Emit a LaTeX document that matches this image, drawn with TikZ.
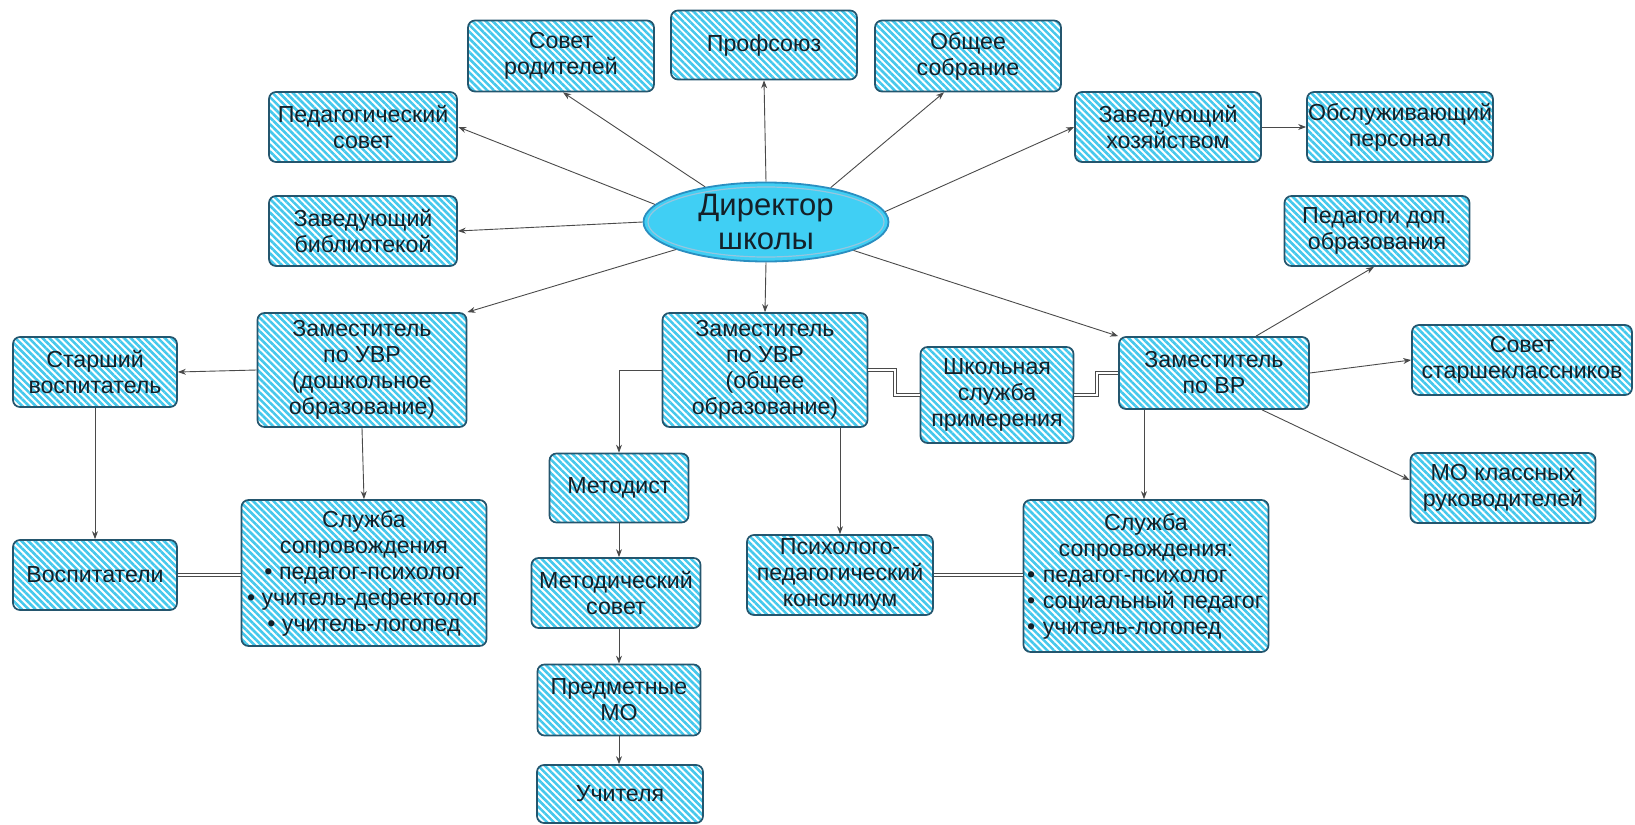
\documentclass[tikz,border=0pt]{standalone}
\usepackage{fontspec}
\setmainfont{Liberation Sans}
\usetikzlibrary{patterns.meta,arrows.meta,shapes.geometric,calc}
\definecolor{stripe}{HTML}{45C8EC}
\definecolor{bord}{HTML}{24566E}
\definecolor{txt}{HTML}{142028}
\definecolor{conn}{HTML}{4A4A4A}
\definecolor{ellfill}{HTML}{40CFF4}
\definecolor{ellbord}{HTML}{2A8EC0}
\begin{document}
\begin{tikzpicture}[x=0.5pt,y=-0.5pt,
  box/.style={draw=bord, line width=0.85pt, rounded corners=3.5pt,
    pattern={Lines[angle=-45,distance=2.4pt,line width=1.3pt]}, pattern color=stripe,
    align=center, inner sep=0pt, text=txt,
    font=\fontsize{11.6}{13}\selectfont},
  arr/.style={draw=conn, line width=0.45pt, -{Stealth[length=4pt,width=3pt]}},
  dbl/.style={draw=conn, line width=0.35pt, double=white, double distance=1.1pt}
]
\useasboundingbox (0,0) rectangle (1635,825);

% director
\node[ellipse, draw=ellbord, line width=0.9pt, fill=ellfill, minimum width=122.5pt, minimum height=39.5pt,
  inner sep=0pt, align=center, text=txt, font=\fontsize{15.5}{17}\selectfont] (dir) at (766,222) {Директор\\школы};
\draw[draw=ellbord!50!white, line width=0.6pt] (766,222) ellipse [x radius=118, y radius=35];

% top row
\node[box, minimum width=94pt, minimum height=35pt] (ped) at (363,127) {Педагогический\\совет};
\node[box, minimum width=93pt, minimum height=35.5pt] (rod) at (561,56) {Совет\\родителей};
\node[box, minimum width=93pt, minimum height=34.5pt] (prof) at (764,45) {Профсоюз};
\node[box, minimum width=93pt, minimum height=35.5pt] (sobr) at (968,56) {Общее\\собрание};
\node[box, minimum width=93pt, minimum height=35pt] (hoz) at (1168,127) {Заведующий\\хозяйством};
\node[box, minimum width=93pt, minimum height=35pt] (obsl) at (1400,127) {Обслуживающий\\персонал};
\node[box, minimum width=94pt, minimum height=35pt] (bib) at (363,231) {Заведующий\\библиотекой};
\node[box, minimum width=92.5pt, minimum height=35pt] (pdop) at (1377,231) {Педагоги доп.\\образования};

% middle row
\node[box, minimum width=104.5pt, minimum height=57pt] (zdosh) at (362,370) {Заместитель\\по УВР\\(дошкольное\\образование)};
\node[box, minimum width=102.5pt, minimum height=57pt] (zobsh) at (765,370) {Заместитель\\по УВР\\(общее\\образование)};
\node[box, minimum width=76.5pt, minimum height=48pt] (shk) at (997,395) {Школьная\\служба\\примерения};
\node[box, minimum width=95pt, minimum height=36pt] (zvr) at (1214,373) {Заместитель\\по ВР};
\node[box, minimum width=110pt, minimum height=35pt] (sstar) at (1522,360) {Совет\\старшеклассников};
\node[box, minimum width=82pt, minimum height=35pt] (svosp) at (95,372) {Старший\\воспитатель};
\node[box, minimum width=92.5pt, minimum height=35pt] (mokl) at (1503,488) {МО классных\\руководителей};

% lower
\node[box, minimum width=82pt, minimum height=35pt] (vosp) at (95,575) {Воспитатели};
\node[box, minimum width=122.5pt, minimum height=73pt] (sl1) at (364,573) {Служба\\сопровождения\\• педагог-психолог\\• учитель-дефектолог\\• учитель-логопед};
\node[box, minimum width=69.5pt, minimum height=34.5pt] (met) at (619,488) {Методист};
\node[box, minimum width=84.5pt, minimum height=35pt] (msov) at (616,593) {Методический\\совет};
\node[box, minimum width=81.5pt, minimum height=35.5pt] (pmo) at (619,700) {Предметные\\МО};
\node[box, minimum width=83pt, minimum height=29pt] (uch) at (620,794) {Учителя};
\node[box, minimum width=93pt, minimum height=40pt] (psy) at (840,575) {Психолого-\\педагогический\\консилиум};
\node[box, minimum width=122.5pt, minimum height=76pt, align=left, text width=119pt] (sl2) at (1146,576)
  {\centering Служба\\сопровождения:\par\raggedright • педагог-психолог\\• социальный педагог\\• учитель-логопед};

% director connectors
\draw[arr] (dir.171) -- (ped.east);
\draw[arr] (dir.150) -- ($(rod.south)+(2,0)$);
\draw[arr] (dir.north) -- (prof.south);
\draw[arr] (dir.28) -- ($(sobr.south)+(-24,0)$);
\draw[arr] (dir.5) -- (hoz.west);
\draw[arr] (hoz.east) -- (obsl.west);
\draw[arr] (dir.west) -- (bib.east);
\draw[arr] (dir.197) -- (zdosh.north east);
\draw[arr] (dir.south) -- (zobsh.north);
\draw[arr] (dir.342) -- (zvr.north west);

% left branch
\draw[arr] (zdosh.west) -- (svosp.east);
\draw[arr] (svosp.south) -- (vosp.north);
\draw[arr] (zdosh.south) -- (sl1.north);
\draw[dbl] (vosp.east) -- (sl1.west |- vosp.east);

% middle branch
\draw[arr] (zobsh.west) -| (met.north);
\draw[arr] (met.south) -- (met.south |- msov.north);
\draw[arr] (met.south |- msov.south) -- (met.south |- pmo.north);
\draw[arr] (pmo.south) -- (pmo.south |- uch.north);
\draw[arr] (psy.north |- zobsh.south) -- (psy.north);
\draw[dbl] (psy.east) -- (sl2.west |- psy.east);

% school mediation service
\coordinate (k1) at (895,370);
\coordinate (k2) at (1097,373);
\draw[dbl] (zobsh.east) -- (k1) |- (shk.west);
\draw[dbl] (shk.east) -| (k2) -- (zvr.west);

% right branch
\draw[arr] ($(zvr.north)+(42,0)$) -- ($(pdop.south)+(-3,0)$);
\draw[arr] (zvr.east) -- (sstar.west);
\draw[arr] ($(zvr.south)+(48,0)$) -- ($(mokl.west)+(0,-8)$);
\draw[arr] ($(zvr.south)+(-70,0)$) -- ($(sl2.north)+(-2,0)$);
\end{tikzpicture}
\end{document}
